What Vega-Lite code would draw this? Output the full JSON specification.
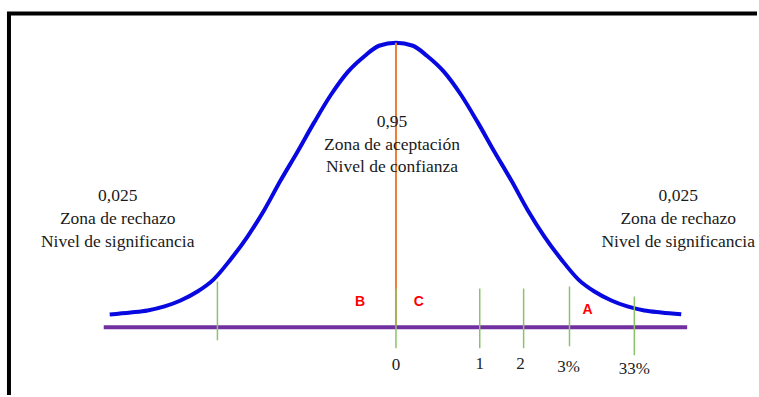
{
  "$schema": "https://vega.github.io/schema/vega-lite/v6.json",
  "width": 759,
  "height": 397,
  "padding": 0,
  "autosize": {"type": "fit", "contains": "padding"},
  "background": "white",
  "config": {"view": {"stroke": null}},
  "datasets": {
    "curve": [
      {"x": -2.87, "y": 0.0455}, {"x": -2.66, "y": 0.0524}, {"x": -2.49, "y": 0.0594},
      {"x": -2.32, "y": 0.0734}, {"x": -2.16, "y": 0.0944}, {"x": -1.99, "y": 0.1259},
      {"x": -1.83, "y": 0.1678}, {"x": -1.66, "y": 0.2378}, {"x": -1.49, "y": 0.3182},
      {"x": -1.32, "y": 0.4126}, {"x": -1.16, "y": 0.5140}, {"x": -0.99, "y": 0.6154},
      {"x": -0.82, "y": 0.7203}, {"x": -0.65, "y": 0.8182}, {"x": -0.48, "y": 0.8986},
      {"x": -0.31, "y": 0.9545}, {"x": -0.17, "y": 0.9895}, {"x": 0.00, "y": 1.0000},
      {"x": 0.17, "y": 0.9895}, {"x": 0.31, "y": 0.9545}, {"x": 0.48, "y": 0.8986},
      {"x": 0.65, "y": 0.8182}, {"x": 0.82, "y": 0.7203}, {"x": 0.99, "y": 0.6154},
      {"x": 1.16, "y": 0.5140}, {"x": 1.32, "y": 0.4126}, {"x": 1.49, "y": 0.3182},
      {"x": 1.66, "y": 0.2378}, {"x": 1.83, "y": 0.1678}, {"x": 1.99, "y": 0.1259},
      {"x": 2.16, "y": 0.0944}, {"x": 2.32, "y": 0.0734}, {"x": 2.49, "y": 0.0594},
      {"x": 2.66, "y": 0.0524}, {"x": 2.86, "y": 0.0455}
    ],
    "baseline": [{"x": -2.93, "x2": 2.92, "y": 0}],
    "frameTop": [{"x": -3.90, "x2": 3.62, "y": 1.1031}],
    "frameLeft": [{"x": -3.88, "y": 1.1084, "y2": -0.2378}],
    "center": [{"x": 0, "y": 0, "y2": 1}],
    "ticks": [
      {"x": -1.79, "y": 0.1608, "y2": -0.0455},
      {"x": 0.00, "y": 0.1364, "y2": -0.0734},
      {"x": 0.84, "y": 0.1364, "y2": -0.0734},
      {"x": 1.28, "y": 0.1364, "y2": -0.0734},
      {"x": 1.74, "y": 0.1434, "y2": -0.0664},
      {"x": 2.39, "y": 0.1084, "y2": -0.0979}
    ],
    "tickLabels": [
      {"x": 0.00, "y": -0.1329, "label": "0"},
      {"x": 0.84, "y": -0.1294, "label": "1"},
      {"x": 1.25, "y": -0.1294, "label": "2"},
      {"x": 1.73, "y": -0.1399, "label": "3%"},
      {"x": 2.39, "y": -0.1469, "label": "33%"}
    ],
    "letters": [
      {"x": -0.36, "y": 0.0874, "label": "B"},
      {"x": 0.23, "y": 0.0874, "label": "C"},
      {"x": 1.92, "y": 0.0594, "label": "A"}
    ],
    "notes": [
      {"x": -0.04, "y": 0.7028, "label": "0,95"},
      {"x": -0.04, "y": 0.6224, "label": "Zona de aceptación"},
      {"x": -0.04, "y": 0.5455, "label": "Nivel de confianza"},
      {"x": -2.79, "y": 0.4441, "label": "0,025"},
      {"x": -2.79, "y": 0.3636, "label": "Zona de rechazo"},
      {"x": -2.79, "y": 0.2832, "label": "Nivel de significancia"},
      {"x": 2.83, "y": 0.4441, "label": "0,025"},
      {"x": 2.83, "y": 0.3636, "label": "Zona de rechazo"},
      {"x": 2.83, "y": 0.2832, "label": "Nivel de significancia"}
    ]
  },
  "encoding": {
    "x": {"field": "x", "type": "quantitative", "scale": {"domain": [-3.97, 3.62], "nice": false, "zero": false}, "axis": null},
    "y": {"field": "y", "type": "quantitative", "scale": {"domain": [-0.2378, 1.1503], "nice": false, "zero": false}, "axis": null}
  },
  "layer": [
    {
      "data": {"name": "frameTop"},
      "mark": {"type": "rule", "color": "#000000", "strokeWidth": 4},
      "encoding": {"x2": {"field": "x2"}}
    },
    {
      "data": {"name": "frameLeft"},
      "mark": {"type": "rule", "color": "#000000", "strokeWidth": 4},
      "encoding": {"y2": {"field": "y2"}}
    },
    {
      "data": {"name": "curve"},
      "mark": {"type": "line", "color": "#0808e0", "strokeWidth": 4, "interpolate": "monotone"},
      "encoding": {}
    },
    {
      "data": {"name": "center"},
      "mark": {"type": "rule", "color": "#ed7d31", "strokeWidth": 2},
      "encoding": {"y2": {"field": "y2"}}
    },
    {
      "data": {"name": "baseline"},
      "mark": {"type": "rule", "color": "#7030a0", "strokeWidth": 4},
      "encoding": {"x2": {"field": "x2"}}
    },
    {
      "data": {"name": "ticks"},
      "mark": {"type": "rule", "color": "#8cc26a", "strokeWidth": 1.5},
      "encoding": {"y2": {"field": "y2"}}
    },
    {
      "data": {"name": "tickLabels"},
      "mark": {"type": "text", "font": "Liberation Serif", "fontSize": 17, "color": "#222222", "align": "center", "baseline": "middle"},
      "encoding": {"text": {"field": "label"}}
    },
    {
      "data": {"name": "letters"},
      "mark": {"type": "text", "font": "Liberation Sans", "fontWeight": "bold", "fontSize": 14, "color": "#ff0000", "align": "center", "baseline": "middle"},
      "encoding": {"text": {"field": "label"}}
    },
    {
      "data": {"name": "notes"},
      "mark": {"type": "text", "font": "Liberation Serif", "fontSize": 17.5, "color": "#1a1a1a", "align": "center", "baseline": "alphabetic"},
      "encoding": {"text": {"field": "label"}}
    }
  ]
}
